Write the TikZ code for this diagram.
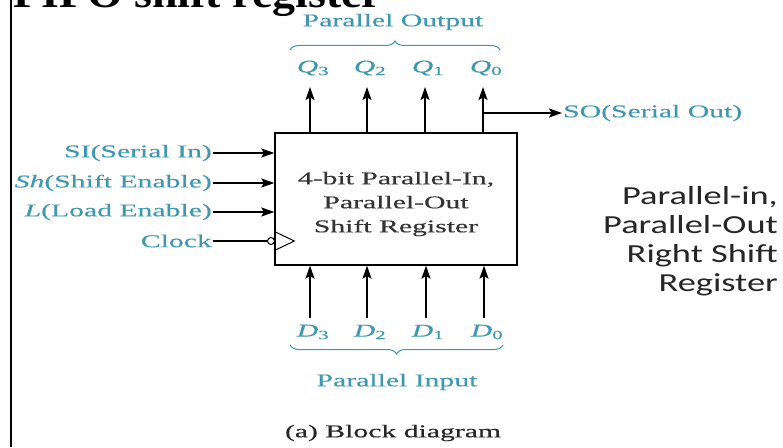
\documentclass[tikz,border=0pt]{standalone}
\usepackage{fontspec}
\usepackage{xcolor}
\usetikzlibrary{arrows.meta, positioning, calc, decorations.pathreplacing}

\newfontfamily\figfont[FakeStretch=1.65, FakeBold=0.35]{Liberation Serif}
\newfontfamily\sidefont[FakeStretch=1.4]{Carlito}
\newfontfamily\titlefont[FakeStretch=1.12]{Liberation Serif}
\definecolor{labelblue}{RGB}{62,152,176}

\begin{document}
\begin{tikzpicture}[x=1pt, y=1pt,
  regbox/.style={draw, line width=1.3pt, minimum width=242pt, minimum height=132pt, inner sep=0pt},
  lbl/.style={font=\figfont\fontsize{18}{22}\selectfont, text=labelblue, inner sep=1pt},
  sig/.style={-{Stealth[length=13pt, width=9pt, inset=2.5pt]}, line width=1.3pt},
  wire/.style={line width=1.3pt},
  brace/.style={decorate, decoration={brace, amplitude=9pt}, labelblue, line width=1pt}
]
  \clip (0,0) rectangle (783,447);

  % page border and clipped heading
  \draw[line width=1.5pt] (11,0) -- (11,447);
  \node[anchor=base west, inner sep=0pt, font=\titlefont\bfseries\fontsize{41}{45}\selectfont] (title) at (13,439) {PIPO shift register};

  % register block
  \node[regbox] (reg) at (396,248) {};
  \node[align=center, inner sep=0pt, text=black!80, font=\figfont\fontsize{18}{24}\selectfont] (regtext) at (396,243)
    {4-bit Parallel-In,\\ Parallel-Out\\ Shift Register};

  % control inputs
  \node[lbl, anchor=east] (si) at (213,294) {SI(Serial In)};
  \node[lbl, anchor=east] (sh) at (213,264) {{\itshape Sh}(Shift Enable)};
  \node[lbl, anchor=east] (ld) at (213,235) {{\itshape L}(Load Enable)};
  \node[lbl, anchor=east] (clk) at (213,206) {Clock};
  \draw[sig] (si) -- (reg.west |- si);
  \draw[sig] (sh) -- (reg.west |- sh);
  \draw[sig] (ld) -- (reg.west |- ld);
  \node[draw, circle, line width=1pt, minimum size=7pt, inner sep=0pt] (bub) at (271,206) {};
  \draw[wire] (clk) -- (bub);
  \draw[line width=1pt] ($(reg.west |- bub)+(0,9.5)$) -- ++(20,-9.5) -- ++(-20,-9.5);

  % parallel outputs
  \node[lbl] (q3) at (313,379) {{\itshape Q}\textsubscript{3}};
  \node[lbl] (q2) at (370,379) {{\itshape Q}\textsubscript{2}};
  \node[lbl] (q1) at (428,379) {{\itshape Q}\textsubscript{1}};
  \node[lbl] (q0) at (486,379) {{\itshape Q}\textsubscript{0}};
  \coordinate (c3) at (310,360);
  \coordinate (c2) at (367,360);
  \coordinate (c1) at (425,360);
  \coordinate (c0) at (483,360);
  \draw[sig] (c3 |- reg.north) -- (c3);
  \draw[sig] (c2 |- reg.north) -- (c2);
  \draw[sig] (c1 |- reg.north) -- (c1);
  \draw[sig] (c0 |- reg.north) -- (c0);
  \draw[brace] (290,397) -- (500,397);
  \node[lbl] (pout) at (393,425) {Parallel Output};

  % serial output
  \coordinate (tap) at (483,334);
  \node[lbl, anchor=west] (so) at (562,334) {SO(Serial Out)};
  \draw[sig] (tap) -- (so);

  % parallel inputs
  \node[lbl] (d3) at (313,115) {{\itshape D}\textsubscript{3}};
  \node[lbl] (d2) at (370,115) {{\itshape D}\textsubscript{2}};
  \node[lbl] (d1) at (428,115) {{\itshape D}\textsubscript{1}};
  \node[lbl] (d0) at (487,115) {{\itshape D}\textsubscript{0}};
  \coordinate (e3) at (310,129);
  \coordinate (e2) at (367,129);
  \coordinate (e1) at (426,129);
  \coordinate (e0) at (484,129);
  \draw[sig] (e3) -- (e3 |- reg.south);
  \draw[sig] (e2) -- (e2 |- reg.south);
  \draw[sig] (e1) -- (e1 |- reg.south);
  \draw[sig] (e0) -- (e0 |- reg.south);
  \draw[brace] (503,102) -- (290,102);
  \node[lbl] (pin) at (397,65) {Parallel Input};

  % captions
  \node[font=\figfont\fontsize{18}{22}\selectfont, text=black!85] (cap) at (393,14) {(a) Block diagram};
  \node[anchor=east, align=right, inner sep=0pt, font=\sidefont\fontsize{26}{29}\selectfont, text=black!85] (side) at (778,206)
    {Parallel-in,\\ Parallel-Out\\ Right Shift\\ Register};
\end{tikzpicture}
\end{document}
